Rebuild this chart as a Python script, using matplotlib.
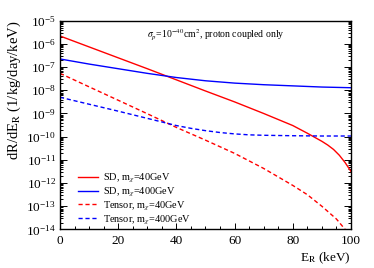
import matplotlib
matplotlib.use("Agg")
import matplotlib.pyplot as plt
from matplotlib.ticker import LogLocator, MultipleLocator, NullFormatter

plt.rcParams['font.family'] = ['Liberation Serif', 'DejaVu Serif']
plt.rcParams['mathtext.fontset'] = 'stix'

# ---- data ----
E_sd40 = [0, 10, 20, 30, 40, 50, 60, 70, 80, 85, 90, 92, 94, 96, 98, 100]
R_sd40 = [2.19e-6, 7.41e-7, 2.51e-7, 8.51e-8, 2.82e-8, 9.33e-9, 3.16e-9,
          1.0e-9, 3.02e-10, 1.41e-10, 6.31e-11, 4.37e-11, 2.82e-11,
          1.58e-11, 7.59e-12, 3.16e-12]

E_sd400 = [0, 10, 20, 30, 40, 50, 60, 70, 80, 90, 100]
R_sd400 = [2.24e-7, 1.35e-7, 8.51e-8, 5.37e-8, 3.55e-8, 2.57e-8, 2.04e-8,
           1.74e-8, 1.55e-8, 1.38e-8, 1.29e-8]

E_t40 = [0, 10, 20, 30, 40, 50, 60, 70, 80, 85, 90, 95, 98]
R_t40 = [5.37e-8, 1.41e-8, 3.72e-9, 9.77e-10, 2.51e-10, 7.08e-11, 1.91e-11,
         4.27e-12, 7.94e-13, 3.16e-13, 1.0e-13, 2.82e-14, 1.0e-14]

E_t400 = [0, 10, 20, 30, 40, 45, 50, 55, 60, 65, 70, 80, 90, 100]
R_t400 = [5.01e-9, 2.51e-9, 1.26e-9, 6.17e-10, 3.02e-10, 2.29e-10, 1.82e-10,
          1.51e-10, 1.32e-10, 1.20e-10, 1.15e-10, 1.10e-10, 1.07e-10, 1.07e-10]

labels = [r'SD, m$_{\chi}$=40GeV', r'SD, m$_{\chi}$=400GeV',
          r'Tensor, m$_{\chi}$=40GeV', r'Tensor, m$_{\chi}$=400GeV']
annotation = r'$\sigma_{p}$=10$^{-40}$cm$^{2}$, proton coupled only'
xlabel = r'E$_{\mathrm{R}}$ (keV)'
ylabel = r'dR/dE$_{\mathrm{R}}$ (1/kg/day/keV)'

fig = plt.figure(figsize=(3.74, 2.68), dpi=100)
ax = fig.add_axes([0.1604, 0.1437, 0.7781, 0.7791])

dash = (0, (3, 2))
ax.plot(E_sd40, R_sd40, color='#ff0000', lw=1.0, label=labels[0])
ax.plot(E_sd400, R_sd400, color='#0000ff', lw=1.0, label=labels[1])
ax.plot(E_t40, R_t40, color='#ff0000', lw=1.0, ls=dash, label=labels[2])
ax.plot(E_t400, R_t400, color='#0000ff', lw=1.0, ls=dash, label=labels[3])

ax.set_yscale('log')
ax.set_xlim(0, 100)
ax.set_ylim(1e-14, 1e-5)

ax.xaxis.set_major_locator(MultipleLocator(20))
ax.xaxis.set_minor_locator(MultipleLocator(5))
ax.yaxis.set_major_locator(LogLocator(base=10, numticks=20))
ax.yaxis.set_minor_locator(LogLocator(base=10, subs=range(2, 10), numticks=200))
ax.yaxis.set_minor_formatter(NullFormatter())

ax.tick_params(which='both', direction='in', top=False, right=True,
               labelsize=9.5, width=0.7)
ax.tick_params(axis='y', which='major', length=5, pad=3)
ax.tick_params(axis='y', which='minor', length=2.5)
ax.tick_params(axis='x', which='major', length=4, pad=4)
ax.tick_params(axis='x', which='minor', length=2)

for s in ax.spines.values():
    s.set_linewidth(1.0)

ax.set_xlabel(xlabel, fontsize=9.5, loc='right')
ax.xaxis.set_label_coords(1.0, -0.138)
ax.xaxis.label.set_va('center')
ax.set_ylabel(ylabel, fontsize=10.5, loc='top')
ax.yaxis.set_label_coords(-0.158, 1.0)
ax.yaxis.label.set_va('center')

ax.text(0.298, 0.936, annotation, transform=ax.transAxes, fontsize=7,
        ha='left', va='center')

ax.legend(loc='upper left', bbox_to_anchor=(0.062, 0.277), borderaxespad=0,
          borderpad=0, frameon=False, fontsize=7.4, handlelength=1.94,
          handletextpad=0.45, labelspacing=0.08)

fig.savefig('out.png', dpi=100)
